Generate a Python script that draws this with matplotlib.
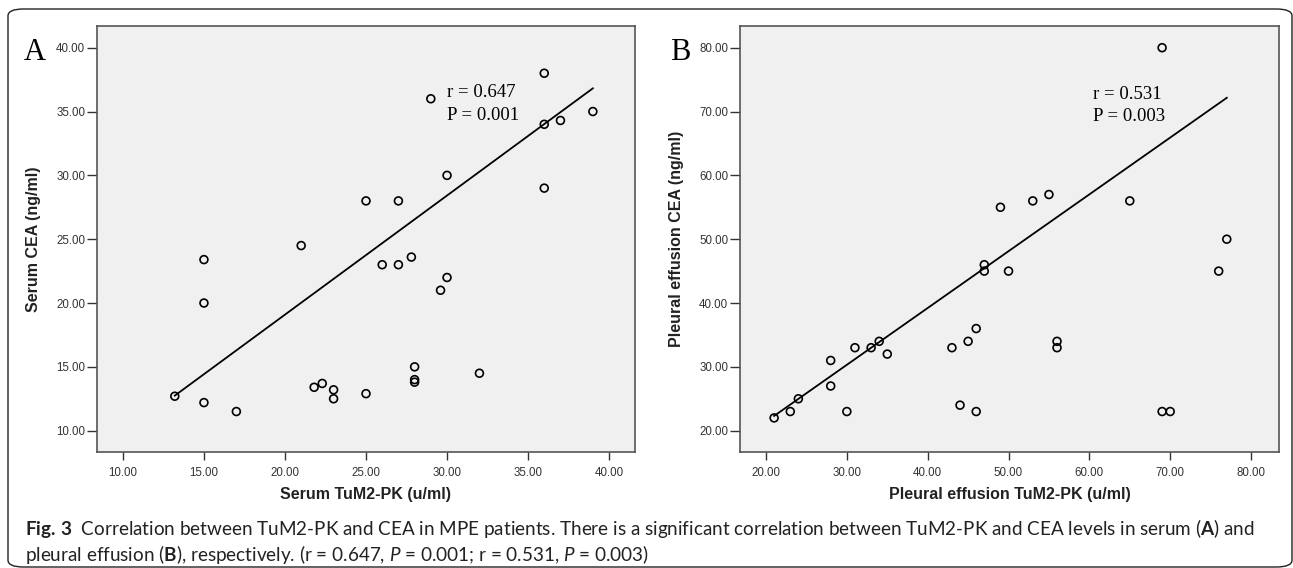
import numpy as np
import matplotlib
matplotlib.use("Agg")
import matplotlib.pyplot as plt
from matplotlib import font_manager
from matplotlib.patches import FancyBboxPatch

# panel A: serum
serum_pk = [29, 36, 36, 37, 39, 30, 36, 25, 27, 21, 15, 26, 27, 27.8, 30, 29.6,
            15, 13.2, 15, 17, 21.8, 22.3, 23, 23, 25, 28, 28, 28, 32]
serum_cea = [36, 38, 34, 34.3, 35, 30, 29, 28, 28, 24.5, 23.4, 23, 23, 23.6, 22, 21,
             20, 12.7, 12.2, 11.5, 13.4, 13.7, 13.2, 12.5, 12.9, 15, 14, 13.8, 14.5]
serum_fit = (0.933, 0.43)  # slope, intercept

# panel B: pleural effusion
pleural_pk = [69, 49, 53, 55, 65, 77, 76, 47, 47, 50,
              21, 23, 24, 28, 28, 30, 31, 33, 34, 35, 43, 44, 45, 46, 46, 56, 56, 69, 70]
pleural_cea = [80, 55, 56, 57, 56, 50, 45, 46, 45, 45,
               22, 23, 25, 31, 27, 23, 33, 33, 34, 32, 33, 24, 34, 36, 23, 34, 33, 23, 23]
pleural_fit = (0.890, 3.62)

stats_a = ["r = 0.647", "P = 0.001"]
stats_b = ["r = 0.531", "P = 0.003"]

W, H = 1293, 568
plt.rcParams['font.family'] = ['Liberation Sans', 'DejaVu Sans']
fig = plt.figure(figsize=(W / 100, H / 100), dpi=100)

names = {f.name for f in font_manager.fontManager.ttflist}
cap_font = 'Liberation Sans Narrow' if 'Liberation Sans Narrow' in names else 'Lato'
plt.rcParams['mathtext.fontset'] = 'custom'
plt.rcParams['mathtext.rm'] = cap_font
plt.rcParams['mathtext.bf'] = cap_font + ':bold'
plt.rcParams['mathtext.it'] = cap_font + ':italic'


def box(left, top, right, bottom):
    return [left / W, 1 - bottom / H, (right - left) / W, (bottom - top) / H]


# rounded frame round the whole figure
frame = FancyBboxPatch((8 / W, 1 / H), (1292 - 8) / W, (567 - 9) / H,
                       boxstyle="round,pad=0,rounding_size=0.012",
                       transform=fig.transFigure, fill=False, ec='#222222', lw=1.0)
fig.patches.append(frame)


def panel(rect, x, y, fit, xlim, ylim, xticks, yticks, xlabel, ylabel, stats, stats_xy, ylab_x):
    ax = fig.add_axes(rect)
    ax.set_facecolor('#f0f0f0')
    ax.scatter(x, y, s=32, facecolors='none', edgecolors='black', linewidths=1.2, zorder=3)
    xs = np.array([min(x), max(x)])
    ax.plot(xs, fit[0] * xs + fit[1], color='black', lw=1.3, zorder=2)
    ax.set_xlim(xlim)
    ax.set_ylim(ylim)
    ax.set_xticks(xticks)
    ax.set_yticks(yticks)
    ax.set_xticklabels([f"{v:.2f}" for v in xticks])
    ax.set_yticklabels([f"{v:.2f}" for v in yticks])
    for s in ax.spines.values():
        s.set_color('#555555')
        s.set_linewidth(1.2)
    ax.tick_params(axis='x', direction='out', length=6, width=1, color='#333333',
                   labelsize=8.3, labelcolor='#333333', pad=5)
    ax.tick_params(axis='y', direction='out', length=7, width=1, color='#333333',
                   labelsize=8.3, labelcolor='#333333', pad=1.5)
    ax.set_xlabel(xlabel, fontsize=11.5, fontweight='bold', color='#222222')
    ax.set_ylabel(ylabel, fontsize=11.5, fontweight='bold', color='#222222')
    ax.xaxis.set_label_coords(0.5, -0.083)
    ax.yaxis.set_label_coords(ylab_x, 0.5)
    ax.text(stats_xy[0], stats_xy[1], stats[0], family='Liberation Serif', fontsize=13.5,
            va='center', ha='left')
    ax.text(stats_xy[0], stats_xy[2], stats[1], family='Liberation Serif', fontsize=13.5,
            va='center', ha='left')
    return ax


ax1 = panel(box(97, 26, 635, 452), serum_pk, serum_cea, serum_fit, (8.4, 41.6), (8.33, 41.7),
            [10, 15, 20, 25, 30, 35, 40], [10, 15, 20, 25, 30, 35, 40],
            "Serum TuM2-PK (u/ml)", "Serum CEA (ng/ml)", stats_a, (30.0, 36.5, 34.7), -0.104)
ax2 = panel(box(740, 26, 1279, 452), pleural_pk, pleural_cea, pleural_fit,
            (16.78, 83.46), (16.66, 83.4),
            [20, 30, 40, 50, 60, 70, 80], [20, 30, 40, 50, 60, 70, 80],
            "Pleural effusion TuM2-PK (u/ml)", "Pleural effusion CEA (ng/ml)", stats_b,
            (60.5, 72.7, 69.2), -0.103)

fig.text(24 / W, 1 - 60 / H, "A", family='Liberation Serif', fontsize=22, va='baseline')
fig.text(670 / W, 1 - 60 / H, "B", family='Liberation Serif', fontsize=22, va='baseline')

# caption
cap1 = (r"$\mathbf{Fig.\,3}$  Correlation between TuM2-PK and CEA in MPE patients. "
        r"There is a significant correlation between TuM2-PK and CEA levels in serum "
        r"($\mathbf{A}$) and")
cap2 = (r"pleural effusion ($\mathbf{B}$), respectively. (r = 0.647, $P$ = 0.001; "
        r"r = 0.531, $P$ = 0.003)")
t1 = fig.text(25 / W, 1 - 528 / H, cap1, family=cap_font, fontsize=14, va='center',
              color='#222222')
t2 = fig.text(25 / W, 1 - 555 / H, cap2, family=cap_font, fontsize=14, va='center',
              color='#222222')
fig.canvas.draw()
w1 = t1.get_window_extent().width
size = 14 * (1262 - 25) / w1
t1.set_fontsize(size)
t2.set_fontsize(size)

fig.savefig("out.png", dpi=100)
